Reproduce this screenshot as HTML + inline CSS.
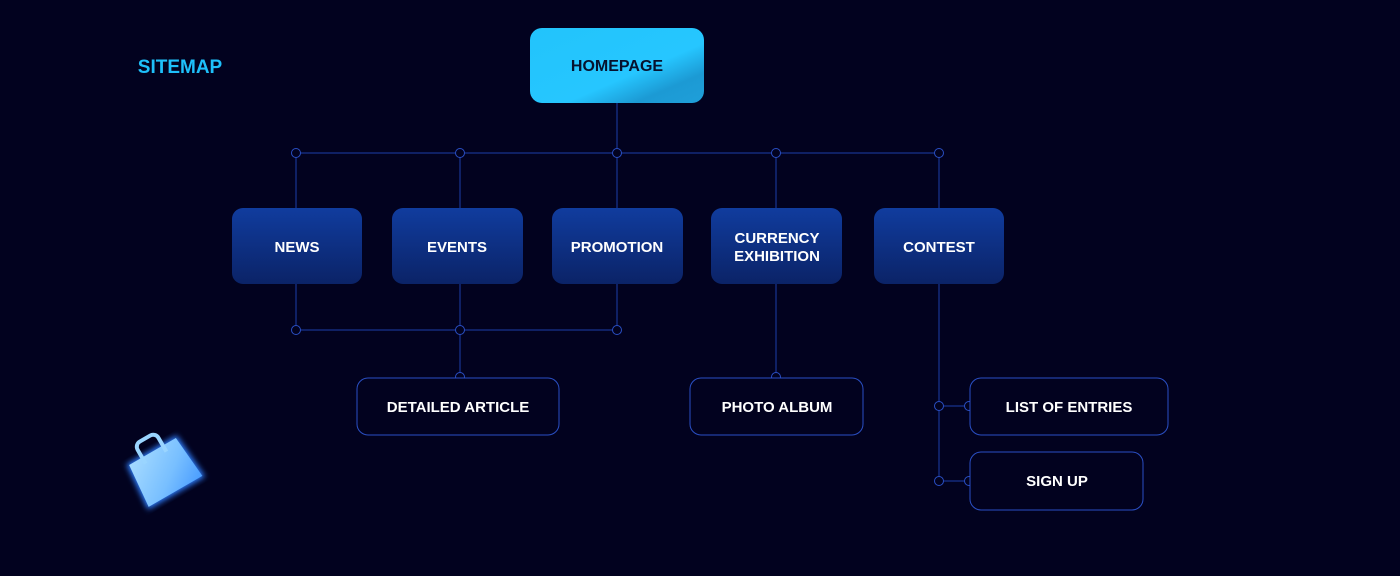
<!DOCTYPE html>
<html><head><style>
html,body{margin:0;padding:0;background:#02021f;}
svg{display:block}
text{font-family:"Liberation Sans",sans-serif;font-weight:bold;font-size:15px;fill:#fff;text-anchor:middle;}
</style></head><body>
<svg width="1400" height="576" viewBox="0 0 1400 576" xmlns="http://www.w3.org/2000/svg">
<defs>
<linearGradient id="hg" x1="0" y1="0" x2="1" y2="1">
<stop offset="0" stop-color="#22c4fb"/><stop offset="0.6" stop-color="#26c6ff"/><stop offset="0.8" stop-color="#1c9ad4"/><stop offset="1" stop-color="#1f9fd9"/>
</linearGradient>
<linearGradient id="bg" x1="0" y1="0" x2="0" y2="1">
<stop offset="0" stop-color="#103c9e"/><stop offset="1" stop-color="#0b2367"/>
</linearGradient>
<linearGradient id="bag" x1="0" y1="0" x2="1" y2="1">
<stop offset="0" stop-color="#a8dcff"/><stop offset="0.6" stop-color="#78bfff"/><stop offset="1" stop-color="#4a9dff"/>
</linearGradient>
<filter id="glow"><feGaussianBlur stdDeviation="3"/></filter>
</defs>
<rect width="1400" height="576" fill="#02021f"/>
<text x="180" y="73" style="font-size:19px;fill:#1ec0fa;">SITEMAP</text>
<rect x="530" y="28" width="174" height="75" rx="12" fill="url(#hg)"/>
<text x="617" y="71" style="fill:#06122e;font-size:16px">HOMEPAGE</text>
<g stroke="#1c3fa8" stroke-width="1" fill="none">
<line x1="617" y1="103" x2="617" y2="208"/>
<line x1="296" y1="153" x2="939" y2="153"/>
<line x1="296" y1="153" x2="296" y2="208"/>
<line x1="460" y1="153" x2="460" y2="208"/>
<line x1="776" y1="153" x2="776" y2="208"/>
<line x1="939" y1="153" x2="939" y2="208"/>
<line x1="296" y1="284" x2="296" y2="330"/>
<line x1="460" y1="284" x2="460" y2="377"/>
<line x1="617" y1="284" x2="617" y2="330"/>
<line x1="296" y1="330" x2="617" y2="330"/>
<line x1="776" y1="284" x2="776" y2="377"/>
<line x1="939" y1="284" x2="939" y2="481"/>
<line x1="939" y1="406" x2="970" y2="406"/>
<line x1="939" y1="481" x2="970" y2="481"/>
</g>
<g stroke="#2a4fc4" stroke-width="1" fill="#02021f">
<circle cx="296" cy="153" r="4.5"/><circle cx="460" cy="153" r="4.5"/><circle cx="617" cy="153" r="4.5"/><circle cx="776" cy="153" r="4.5"/><circle cx="939" cy="153" r="4.5"/>
<circle cx="296" cy="330" r="4.5"/><circle cx="460" cy="330" r="4.5"/><circle cx="617" cy="330" r="4.5"/>
<circle cx="460" cy="377" r="4.5"/><circle cx="776" cy="377" r="4.5"/>
<circle cx="939" cy="406" r="4.5"/><circle cx="969" cy="406" r="4.5"/>
<circle cx="939" cy="481" r="4.5"/><circle cx="969" cy="481" r="4.5"/>
</g>
<g fill="url(#bg)">
<rect x="232" y="208" width="130" height="76" rx="11"/>
<rect x="392" y="208" width="131" height="76" rx="11"/>
<rect x="552" y="208" width="131" height="76" rx="11"/>
<rect x="711" y="208" width="131" height="76" rx="11"/>
<rect x="874" y="208" width="130" height="76" rx="11"/>
</g>
<text x="297" y="252">NEWS</text>
<text x="457" y="252">EVENTS</text>
<text x="617" y="252">PROMOTION</text>
<text x="777" y="243">CURRENCY</text>
<text x="777" y="261">EXHIBITION</text>
<text x="939" y="252">CONTEST</text>
<g fill="#02021f" stroke="#2a4fc4" stroke-width="1">
<rect x="357" y="378" width="202" height="57" rx="11"/>
<rect x="690" y="378" width="173" height="57" rx="11"/>
<rect x="970" y="378" width="198" height="57" rx="11"/>
<rect x="970" y="452" width="173" height="58" rx="11"/>
</g>
<text x="458" y="412">DETAILED ARTICLE</text>
<text x="777" y="412">PHOTO ALBUM</text>
<text x="1069" y="412">LIST OF ENTRIES</text>
<text x="1057" y="486">SIGN UP</text>
<g transform="rotate(-30 162 468)">
<path d="M133 447 L191 447 L195 497 L129 497 Z" fill="#2f7fff" filter="url(#glow)"/>
<path d="M135 449 L189 449 L193 495 L131 495 Z" fill="url(#bag)"/>
<path d="M150 456 v-16 a6 6 0 0 1 6 -6 h12 a6 6 0 0 1 6 6 v16" stroke="#9ad5ff" stroke-width="4" fill="none"/>
</g>
</svg>
</body></html>
